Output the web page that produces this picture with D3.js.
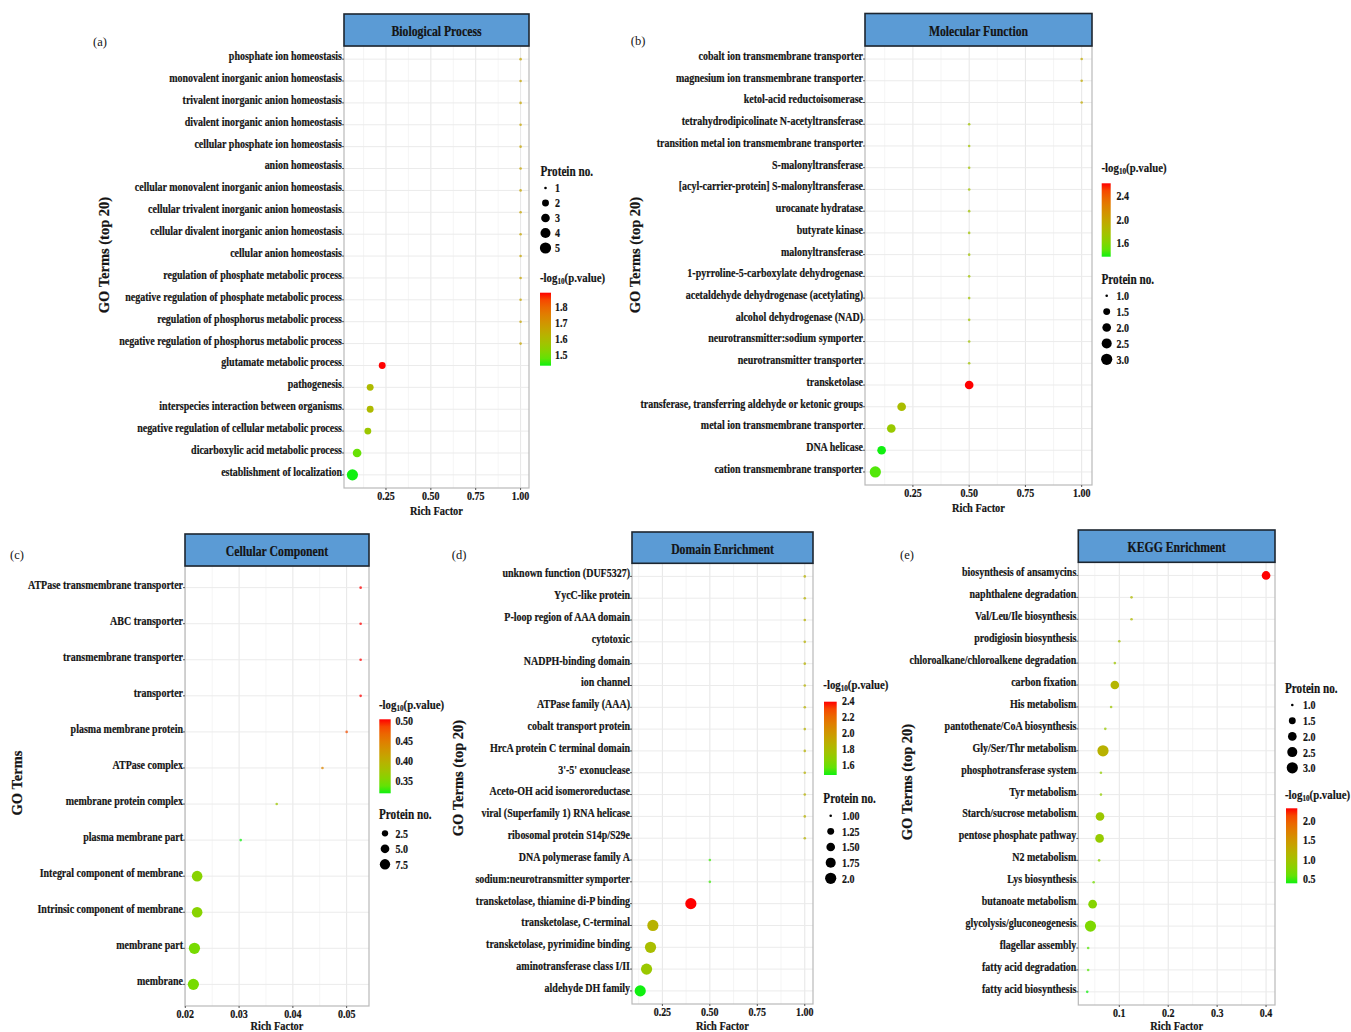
<!DOCTYPE html>
<html>
<head>
<meta charset="utf-8">
<script src="https://cdn.jsdelivr.net/npm/d3@7"></script>
<style>
  html, body { margin: 0; padding: 0; background: #ffffff; }
  svg { display: block; }
  text { font-family: "Liberation Serif", "Times New Roman", serif; fill: #141414; }
</style>
</head>
<body>
<svg id="chart" width="1351" height="1032"></svg>
<script>
// ---------------- Biological Process ----------------
const bpTerms = [
  "phosphate ion homeostasis", "monovalent inorganic anion homeostasis",
  "trivalent inorganic anion homeostasis", "divalent inorganic anion homeostasis",
  "cellular phosphate ion homeostasis", "anion homeostasis",
  "cellular monovalent inorganic anion homeostasis", "cellular trivalent inorganic anion homeostasis",
  "cellular divalent inorganic anion homeostasis", "cellular anion homeostasis",
  "regulation of phosphate metabolic process", "negative regulation of phosphate metabolic process",
  "regulation of phosphorus metabolic process", "negative regulation of phosphorus metabolic process",
  "glutamate metabolic process", "pathogenesis", "interspecies interaction between organisms",
  "negative regulation of cellular metabolic process", "dicarboxylic acid metabolic process",
  "establishment of localization"
];
const bpRich  = [1, 1, 1, 1, 1, 1, 1, 1, 1, 1, 1, 1, 1, 1, 0.229, 0.162, 0.162, 0.149, 0.089, 0.063];
const bpCount = [1, 1, 1, 1, 1, 1, 1, 1, 1, 1, 1, 1, 1, 1, 2, 2, 2, 2, 3, 5];
const bpLogP  = [1.66, 1.66, 1.66, 1.66, 1.66, 1.66, 1.66, 1.66, 1.66, 1.66, 1.66, 1.66, 1.66, 1.66,
                 1.89, 1.60, 1.60, 1.56, 1.48, 1.43];
const bpTicks = [0.25, 0.50, 0.75, 1.00];
const bpSizeBreaks = ["1", "2", "3", "4", "5"];
const bpColorBreaks = [1.5, 1.6, 1.7, 1.8];

// ---------------- Molecular Function ----------------
const mfTerms = [
  "cobalt ion transmembrane transporter", "magnesium ion transmembrane transporter",
  "ketol-acid reductoisomerase", "tetrahydrodipicolinate N-acetyltransferase",
  "transition metal ion transmembrane transporter", "S-malonyltransferase",
  "[acyl-carrier-protein] S-malonyltransferase", "urocanate hydratase", "butyrate kinase",
  "malonyltransferase", "1-pyrroline-5-carboxylate dehydrogenase",
  "acetaldehyde dehydrogenase (acetylating)", "alcohol dehydrogenase (NAD)",
  "neurotransmitter:sodium symporter", "neurotransmitter transporter", "transketolase",
  "transferase, transferring aldehyde or ketonic groups", "metal ion transmembrane transporter",
  "DNA helicase", "cation transmembrane transporter"
];
const mfRich  = [1, 1, 1, 0.5, 0.5, 0.5, 0.5, 0.5, 0.5, 0.5, 0.5, 0.5, 0.5, 0.5, 0.5, 0.5,
                 0.2, 0.154, 0.111, 0.083];
const mfCount = [1, 1, 1, 1, 1, 1, 1, 1, 1, 1, 1, 1, 1, 1, 1, 2, 2, 2, 2, 3];
const mfLogP  = [1.95, 1.95, 1.95, 1.75, 1.75, 1.75, 1.75, 1.75, 1.75, 1.75, 1.75, 1.75, 1.75, 1.75, 1.75,
                 2.6, 1.8, 1.7, 1.37, 1.45];
const mfTicks = [0.25, 0.50, 0.75, 1.00];
const mfSizeBreaks = ["1.0", "1.5", "2.0", "2.5", "3.0"];
const mfColorBreaks = [1.6, 2.0, 2.4];

// ---------------- Cellular Component ----------------
const ccTerms = [
  "ATPase transmembrane transporter", "ABC transporter", "transmembrane transporter",
  "transporter", "plasma membrane protein", "ATPase complex", "membrane protein complex",
  "plasma membrane part", "Integral component of membrane", "Intrinsic component of membrane",
  "membrane part", "membrane"
];
const ccRich  = [0.0526, 0.0526, 0.0526, 0.0526, 0.0500, 0.0455, 0.0370, 0.0303,
                 0.0222, 0.0222, 0.0217, 0.0215];
const ccCount = [1, 1, 1, 1, 1, 1, 1, 1, 8, 8, 9, 9];
const ccLogP  = [0.502, 0.502, 0.502, 0.502, 0.480, 0.440, 0.370, 0.317, 0.355, 0.355, 0.345, 0.345];
const ccTicks = [0.02, 0.03, 0.04, 0.05];
const ccSizeBreaks = ["2.5", "5.0", "7.5"];
const ccColorBreaks = [0.35, 0.40, 0.45, 0.50];

// ---------------- Domain Enrichment ----------------
const deTerms = [
  "unknown function (DUF5327)", "YycC-like protein", "P-loop region of AAA domain", "cytotoxic",
  "NADPH-binding domain", "ion channel", "ATPase family (AAA)", "cobalt transport protein",
  "HrcA protein C terminal domain", "3'-5' exonuclease", "Aceto-OH acid isomeroreductase",
  "viral (Superfamily 1) RNA helicase", "ribosomal protein S14p/S29e", "DNA polymerase family A",
  "sodium:neurotransmitter symporter", "transketolase, thiamine di-P binding",
  "transketolase, C-terminal", "transketolase, pyrimidine binding", "aminotransferase class I/II",
  "aldehyde DH family"
];
const deRich  = [1, 1, 1, 1, 1, 1, 1, 1, 1, 1, 1, 1, 1, 0.5, 0.5, 0.4, 0.2, 0.1875, 0.1667, 0.1333];
const deCount = [1, 1, 1, 1, 1, 1, 1, 1, 1, 1, 1, 1, 1, 1, 1, 2, 2, 2, 2, 2];
const deLogP  = [1.85, 1.85, 1.85, 1.85, 1.85, 1.85, 1.85, 1.85, 1.85, 1.85, 1.85, 1.85, 1.85, 1.5, 1.5,
                 2.387, 1.85, 1.78, 1.72, 1.465];
const deTicks = [0.25, 0.50, 0.75, 1.00];
const deSizeBreaks = ["1.00", "1.25", "1.50", "1.75", "2.0"];
const deColorBreaks = [1.6, 1.8, 2.0, 2.2, 2.4];

// ---------------- KEGG Enrichment ----------------
const keggTerms = [
  "biosynthesis of ansamycins", "naphthalene degradation", "Val/Leu/Ile biosynthesis",
  "prodigiosin biosynthesis", "chloroalkane/chloroalkene degradation", "carbon fixation",
  "His metabolism", "pantothenate/CoA biosynthesis", "Gly/Ser/Thr metabolism",
  "phosphotransferase system", "Tyr metabolism", "Starch/sucrose metabolism",
  "pentose phosphate pathway", "N2 metabolism", "Lys biosynthesis", "butanoate metabolism",
  "glycolysis/gluconeogenesis", "flagellar assembly", "fatty acid degradation",
  "fatty acid biosynthesis"
];
const keggRich  = [0.400, 0.125, 0.125, 0.100, 0.0909, 0.0909, 0.0833, 0.0714, 0.0667, 0.0625,
                   0.0625, 0.0606, 0.0597, 0.0588, 0.0476, 0.0455, 0.0411, 0.0364, 0.0364, 0.0345];
const keggCount = [2, 1, 1, 1, 1, 2, 1, 1, 3, 1, 1, 2, 2, 1, 1, 2, 3, 1, 1, 1];
const keggLogP  = [2.33, 1.1, 1.1, 1.0, 0.95, 1.15, 0.95, 0.9, 1.2, 0.85, 0.85, 0.92, 0.88, 0.8,
                   0.65, 0.75, 0.7, 0.52, 0.52, 0.37];
const keggTicks = [0.1, 0.2, 0.3, 0.4];
const keggSizeBreaks = ["1.0", "1.5", "2.0", "2.5", "3.0"];
const keggColorBreaks = [0.5, 1.0, 1.5, 2.0];

// ---------------- Drawing ----------------
const svg = d3.select("#chart");
const SX = 0.8;           // horizontal squeeze used for the condensed serif labels
const LOW = "#10f010", HIGH = "#ff0000";
const colorInterp = d3.interpolateLab(LOW, HIGH);
const defs = svg.append("defs");
let gradId = 0;

function sText(g, x, y, str, opt = {}) {
  const t = g.append("text")
    .attr("transform", `translate(${x},${y}) scale(${opt.sx ?? SX},1)`)
    .attr("text-anchor", opt.anchor || "start")
    .attr("dominant-baseline", "central")
    .style("font-size", (opt.size || 12.5) + "px")
    .style("font-weight", opt.weight || "bold");
  if ((opt.weight || "bold") === "bold") t.attr("stroke", "#141414").attr("stroke-width", 0.2);
  if (str !== null) t.text(str);
  return t;
}

function logTitle(g, x, y) {
  const t = sText(g, x, y, null, { size: 13.5 });
  t.append("tspan").text("-log");
  t.append("tspan").text("10").style("font-size", "9px").attr("dy", 3);
  t.append("tspan").text("(p.value)").attr("dy", -3);
}

function drawPanel(p) {
  const g = svg.append("g");
  const { x0, x1, y0, y1, hy } = p.box;

  // x scale with 5% expansion on each side of the data range
  const ext = d3.extent(p.rich);
  const pad = (ext[1] - ext[0]) * 0.05;
  const x = d3.scaleLinear().domain([ext[0] - pad, ext[1] + pad]).range([x0, x1]);
  const y = d3.scalePoint().domain(p.terms).range([y0, y1]).padding(0.6);

  const cExt = d3.extent(p.logp);
  const color = d3.scaleSequential(colorInterp).domain(cExt);

  const sExt = p.sizeDomain || d3.extent(p.count);
  const rLin = d3.scaleLinear().domain([0, 1]).range([1.3, 5.6]);
  const radius = v => rLin(Math.sqrt(Math.max(0, (v - sExt[0]) / (sExt[1] - sExt[0]))));

  // grid
  const dom = x.domain();
  const step = p.ticks[1] - p.ticks[0];
  const minor = [];
  for (let v = p.ticks[0] - step / 2; v <= dom[1] + 1e-9; v += step) {
    if (v >= dom[0]) minor.push(v);
  }
  g.selectAll(".minor").data(minor).join("line")
    .attr("x1", d => x(d)).attr("x2", d => x(d)).attr("y1", y0).attr("y2", y1)
    .attr("stroke", "#f3f3f3").attr("stroke-width", 0.8);
  g.selectAll(".vmajor").data(p.ticks).join("line")
    .attr("x1", d => x(d)).attr("x2", d => x(d)).attr("y1", y0).attr("y2", y1)
    .attr("stroke", "#e6e6e6").attr("stroke-width", 1);
  g.selectAll(".hmajor").data(p.terms).join("line")
    .attr("x1", x0).attr("x2", x1).attr("y1", d => y(d)).attr("y2", d => y(d))
    .attr("stroke", "#ebebeb").attr("stroke-width", 1);

  // panel border
  g.append("rect").attr("x", x0).attr("y", y0).attr("width", x1 - x0).attr("height", y1 - y0)
    .attr("fill", "none").attr("stroke", "#b9b9b9").attr("stroke-width", 1.2);

  // header strip
  g.append("rect").attr("x", x0).attr("y", hy).attr("width", x1 - x0).attr("height", y0 - hy)
    .attr("fill", "#5b9bd5").attr("stroke", "#1d2630").attr("stroke-width", 1.6);
  sText(g, (x0 + x1) / 2, (hy + y0) / 2 + 1, p.title, { size: 14, anchor: "middle", sx: 0.84 });

  // dots
  const minCount = d3.min(p.count);
  const rows = p.terms.map((t, i) => ({ t, r: p.rich[i], c: p.count[i], l: p.logp[i] }));
  g.selectAll(".dot").data(rows).join("circle")
    .attr("cx", d => x(d.r)).attr("cy", d => y(d.t))
    .attr("r", d => radius(d.c))
    .attr("fill", d => color(d.l))
    .attr("opacity", d => d.c === minCount && minCount === sExt[0] ? 0.75 : 1);

  // y axis: ticks and labels
  g.selectAll(".ytick").data(p.terms).join("line")
    .attr("x1", x0 - 2).attr("x2", x0).attr("y1", d => y(d)).attr("y2", d => y(d))
    .attr("stroke", "#555").attr("stroke-width", 1);
  p.terms.forEach(t => sText(g, x0 - 2, y(t) - 3.5, t, { anchor: "end" }));

  // x axis: ticks and labels
  g.selectAll(".xtick").data(p.ticks).join("line")
    .attr("x1", d => x(d)).attr("x2", d => x(d)).attr("y1", y1).attr("y2", y1 + 2)
    .attr("stroke", "#555").attr("stroke-width", 1);
  p.ticks.forEach(v => sText(g, x(v), y1 + 8, d3.format(p.fmt)(v), { anchor: "middle" }));
  sText(g, (x0 + x1) / 2, y1 + p.rfDy, "Rich Factor", { size: 13, anchor: "middle" });

  // titles
  sText(g, p.letter[0], p.letter[1], p.letter[2], { size: 12.5, weight: "normal", anchor: "middle", sx: 1 });
  g.append("text")
    .attr("transform", `translate(${p.yTitle[0]},${p.yTitle[1]}) rotate(-90)`)
    .attr("text-anchor", "middle").attr("dominant-baseline", "central")
    .attr("stroke", "#141414").attr("stroke-width", 0.2)
    .style("font-size", "14.5px").style("font-weight", "bold")
    .text(p.yTitle[2]);

  // size legend
  const sl = p.sizeLegend;
  sText(g, sl.x, sl.ty, "Protein no.", { size: 14 });
  p.sizeBreaks.forEach((b, i) => {
    const cy = sl.y0 + i * sl.step;
    g.append("circle").attr("cx", sl.cx).attr("cy", cy).attr("r", radius(+b)).attr("fill", "#000");
    sText(g, sl.lx, cy, b);
  });

  // colour legend
  const cl = p.colorLegend;
  logTitle(g, cl.x, cl.ty);
  const id = "grad" + (gradId++);
  const lg = defs.append("linearGradient").attr("id", id)
    .attr("x1", 0).attr("y1", 1).attr("x2", 0).attr("y2", 0);
  d3.range(0, 1.0001, 0.1).forEach(s =>
    lg.append("stop").attr("offset", s).attr("stop-color", colorInterp(s)));
  g.append("rect").attr("x", cl.bx0).attr("y", cl.by0)
    .attr("width", cl.bx1 - cl.bx0).attr("height", cl.by1 - cl.by0)
    .attr("fill", `url(#${id})`);
  const cy = d3.scaleLinear().domain(cExt).range([cl.by1, cl.by0]);
  p.colorBreaks.forEach(b => sText(g, cl.lx, cy(b), d3.format(p.cfmt)(b)));
}

drawPanel({
  terms: bpTerms, rich: bpRich, count: bpCount, logp: bpLogP, ticks: bpTicks, fmt: ".2f",
  title: "Biological Process", box: { x0: 344, x1: 529, y0: 46, y1: 488, hy: 14 },
  rfDy: 23, letter: [100, 42, "(a)"], yTitle: [104, 255, "GO Terms (top 20)"],
  sizeBreaks: bpSizeBreaks, colorBreaks: bpColorBreaks, cfmt: ".1f",
  sizeLegend: { x: 540.5, ty: 171.7, y0: 188, step: 15, cx: 545.5, lx: 555 },
  colorLegend: { x: 540, ty: 278, bx0: 540, bx1: 551, by0: 292.7, by1: 365.7, lx: 555 }
});

drawPanel({
  terms: mfTerms, rich: mfRich, count: mfCount, logp: mfLogP, ticks: mfTicks, fmt: ".2f",
  title: "Molecular Function", box: { x0: 865, x1: 1092, y0: 46, y1: 485, hy: 13.5 },
  rfDy: 23, letter: [638, 41, "(b)"], yTitle: [635, 255, "GO Terms (top 20)"],
  sizeBreaks: mfSizeBreaks, colorBreaks: mfColorBreaks, cfmt: ".1f",
  sizeLegend: { x: 1101.5, ty: 280, y0: 295.7, step: 15.9, cx: 1106.7, lx: 1116.5 },
  colorLegend: { x: 1101.5, ty: 168, bx0: 1101.7, bx1: 1110.7, by0: 183.3, by1: 256.7, lx: 1116.5 }
});

drawPanel({
  terms: ccTerms, rich: ccRich, count: ccCount, logp: ccLogP, ticks: ccTicks, fmt: ".2f",
  title: "Cellular Component", box: { x0: 185, x1: 369, y0: 566, y1: 1006, hy: 534 },
  rfDy: 20, letter: [17, 555, "(c)"], yTitle: [17, 783, "GO Terms"],
  sizeDomain: [1, 9],
  sizeBreaks: ccSizeBreaks, colorBreaks: ccColorBreaks, cfmt: ".2f",
  sizeLegend: { x: 379, ty: 815, y0: 833.3, step: 15.5, cx: 385, lx: 395.5 },
  colorLegend: { x: 379, ty: 705, bx0: 379.3, bx1: 390.7, by0: 719.3, by1: 793.3, lx: 395.5 }
});

drawPanel({
  terms: deTerms, rich: deRich, count: deCount, logp: deLogP, ticks: deTicks, fmt: ".2f",
  title: "Domain Enrichment", box: { x0: 632, x1: 813, y0: 563.3, y1: 1004, hy: 532 },
  rfDy: 22, letter: [459, 555, "(d)"], yTitle: [458, 778, "GO Terms (top 20)"],
  sizeBreaks: deSizeBreaks, colorBreaks: deColorBreaks, cfmt: ".1f",
  sizeLegend: { x: 823.3, ty: 798.3, y0: 815.7, step: 15.65, cx: 830.7, lx: 842 },
  colorLegend: { x: 823.3, ty: 685, bx0: 824, bx1: 836.7, by0: 701.7, by1: 775, lx: 842 }
});

drawPanel({
  terms: keggTerms, rich: keggRich, count: keggCount, logp: keggLogP, ticks: keggTicks, fmt: ".1f",
  title: "KEGG Enrichment", box: { x0: 1078.3, x1: 1275, y0: 562.3, y1: 1005, hy: 530 },
  rfDy: 21, letter: [907, 555, "(e)"], yTitle: [907, 782, "GO Terms (top 20)"],
  sizeBreaks: keggSizeBreaks, colorBreaks: keggColorBreaks, cfmt: ".1f",
  sizeLegend: { x: 1285, ty: 688.3, y0: 705, step: 15.7, cx: 1292.3, lx: 1303 },
  colorLegend: { x: 1285, ty: 794.3, bx0: 1286, bx1: 1297.3, by0: 808.3, by1: 883.3, lx: 1303 }
});
</script>
</body>
</html>
